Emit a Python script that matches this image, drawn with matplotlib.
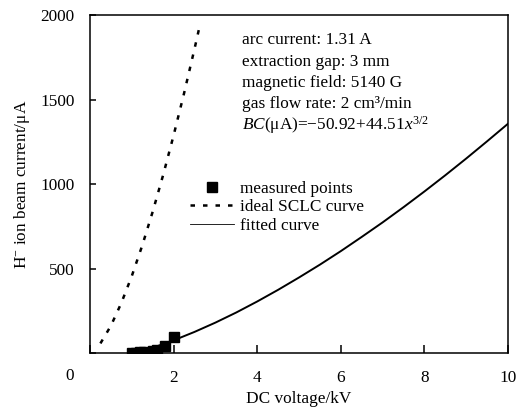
import matplotlib
matplotlib.use("Agg")
import matplotlib.pyplot as plt
from matplotlib.lines import Line2D

plt.rcParams['font.family'] = ['Liberation Serif', 'DejaVu Serif']
plt.rcParams['mathtext.fontset'] = 'custom'
plt.rcParams['mathtext.rm'] = 'Liberation Serif'
plt.rcParams['mathtext.it'] = 'Liberation Serif:italic'
plt.rcParams['mathtext.bf'] = 'Liberation Serif:bold'

# measured points
meas_x = [1.0, 1.1, 1.2, 1.3, 1.5, 1.6, 1.8, 2.0]
meas_y = [2, 3, 4, 5, 12, 20, 42, 92]

# ideal SCLC curve
sclc_x = [0.25, 0.5, 0.75, 1.0, 1.25, 1.5, 1.75, 2.0, 2.25, 2.5, 2.62]
sclc_y = [57, 161, 296, 455, 636, 836, 1053, 1287, 1536, 1799, 1930]

# fitted curve
fit_x = [1.15, 1.5, 2.0, 2.5, 3.0, 3.5, 4.0, 4.5, 5.0, 5.5, 6.0, 6.5, 7.0, 7.5, 8.0, 8.5, 9.0, 9.5, 10.0]
fit_y = [3, 31, 75, 125, 180, 240, 305, 374, 447, 523, 603, 687, 773, 863, 956, 1052, 1151, 1253, 1357]

xticks = [0, 2, 4, 6, 8, 10]
xtick_labels = ['', '2', '4', '6', '8', '10']
yticks = [0, 500, 1000, 1500, 2000]
ytick_labels = ['', '500', '1000', '1500', '2000']

info_lines = [
    "arc current: 1.31 A",
    "extraction gap: 3 mm",
    "magnetic field: 5140 G",
    "gas flow rate: 2 cm\u00b3/min",
    "$\\it{BC}$(\u03bcA)=\u221250.92+44.51$\\it{x}^{3/2}$",
]

fs = 12.4
fig = plt.figure(figsize=(5.2, 4.11), dpi=100)
ax = fig.add_axes([0.173, 0.141, 0.804, 0.8225])

ax.plot(sclc_x, sclc_y, color='black', lw=1.8, linestyle=(0, (1.8, 3.2)))
ax.plot(fit_x, fit_y, color='black', lw=1.4)
ax.plot(meas_x, meas_y, 's', color='black', markersize=6.5, linestyle='none')

ax.set_xlim(0, 10)
ax.set_ylim(0, 2000)
ax.set_xticks(xticks)
ax.set_xticklabels(xtick_labels, fontsize=fs)
ax.set_yticks(yticks)
ax.set_yticklabels(ytick_labels, fontsize=fs)
ax.tick_params(axis='x', direction='in', length=6, width=1.1, pad=12)
ax.tick_params(axis='y', direction='in', length=4.5, width=1.1, pad=11)
for s in ax.spines.values():
    s.set_linewidth(1.1)

ax.annotate('0', xy=(0, 0), xycoords='data', xytext=(-20, -23),
            textcoords='offset pixels', ha='center', va='center', fontsize=fs,
            annotation_clip=False)

ax.set_xlabel('DC voltage/kV', fontsize=fs, labelpad=4)
ax.set_ylabel('H$^{-}$ ion beam current/\u03bcA', fontsize=fs, labelpad=6)

y0 = 0.925
for i, t in enumerate(info_lines):
    ax.text(0.363, y0 - i * 0.063, t, transform=ax.transAxes, fontsize=fs,
            ha='left', va='center')

handles = [
    Line2D([], [], marker='s', color='black', linestyle='none', markersize=6.5),
    Line2D([], [], color='black', lw=1.8, linestyle=(0, (1.8, 3.2))),
    Line2D([], [], color='black', lw=0.6),
]
labels = ['measured points', 'ideal SCLC curve', 'fitted curve']
ax.legend(handles, labels, loc='upper left', bbox_to_anchor=(0.222, 0.53),
          frameon=False, fontsize=fs, handlelength=2.6, handletextpad=0.35,
          labelspacing=0.15, borderaxespad=0)

fig.savefig('out.png', dpi=100)
